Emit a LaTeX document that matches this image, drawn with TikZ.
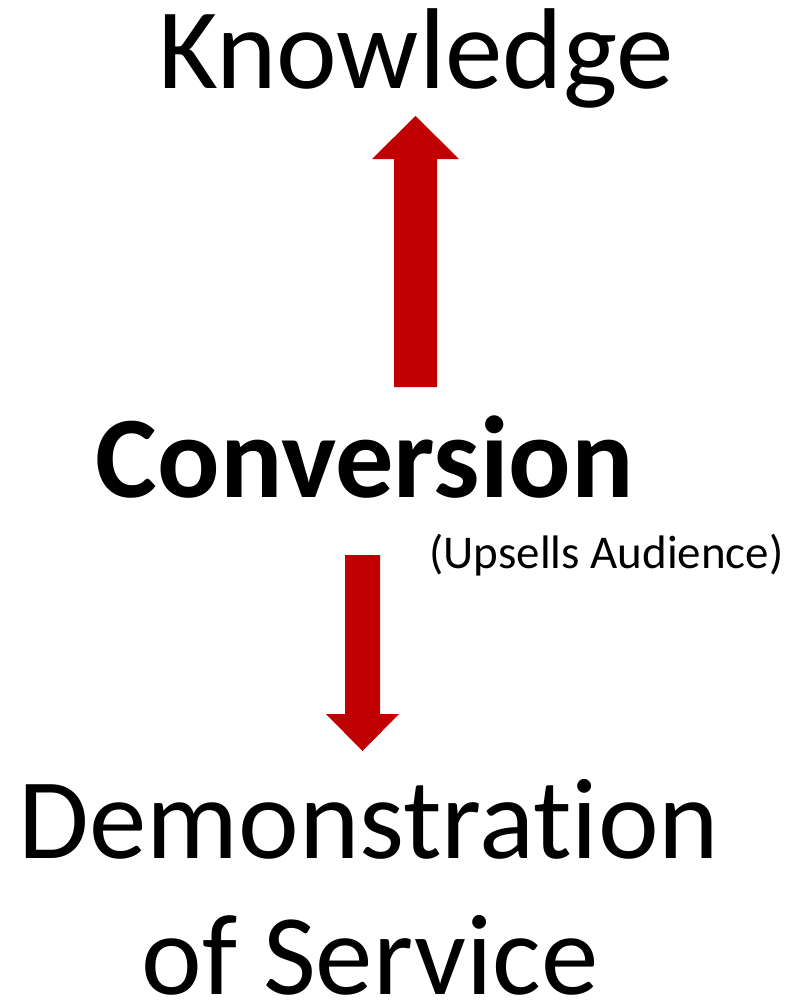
\documentclass[tikz,border=0pt]{standalone}
\usepackage{fontspec}
\setmainfont{Carlito}[Ligatures=NoCommon]
\usetikzlibrary{calc}
\definecolor{arrowred}{HTML}{C00000}
\begin{document}
\begin{tikzpicture}[x=1pt,y=-1pt,
  big/.style={inner sep=0pt,anchor=base,font=\fontsize{115}{138}\selectfont},
  bigbold/.style={inner sep=0pt,anchor=base,font=\fontsize{116.5}{140}\selectfont\bfseries},
  small/.style={inner sep=0pt,anchor=base,font=\fontsize{47}{56}\selectfont},
  blockarrow/.style={fill=arrowred,draw=none}]
\useasboundingbox (0,0) rectangle (806,1004);
\node[big] (know) at (416,88) {Knowledge};
\node[bigbold] (conv) at (365,497) {Conversion};
\node[small] (ups) at (606.5,568) {(Upsells Audience)};
\node[big] (demo) at (369,858) {Demonstration};
\node[big,text depth=0pt] (serv) at (370,994) {of Service};
% up arrow
\coordinate (upTail) at (415.5,387);
\coordinate (upTip) at (415.5,116);
\fill[blockarrow] ($(upTail)+(-21.5,0)$) -- ($(upTail)+(21.5,0)$) -- ($(upTip)+(21.5,43)$)
  -- ($(upTip)+(43.5,43)$) -- (upTip) -- ($(upTip)+(-43.5,43)$) -- ($(upTip)+(-21.5,43)$) -- cycle;
% down arrow
\coordinate (dnTail) at (362.5,555);
\coordinate (dnTip) at (362.5,751);
\fill[blockarrow] ($(dnTail)+(-17.5,0)$) -- ($(dnTail)+(17.5,0)$) -- ($(dnTip)+(17.5,-37)$)
  -- ($(dnTip)+(36.5,-37)$) -- (dnTip) -- ($(dnTip)+(-36.5,-37)$) -- ($(dnTip)+(-17.5,-37)$) -- cycle;
\end{tikzpicture}
\end{document}
